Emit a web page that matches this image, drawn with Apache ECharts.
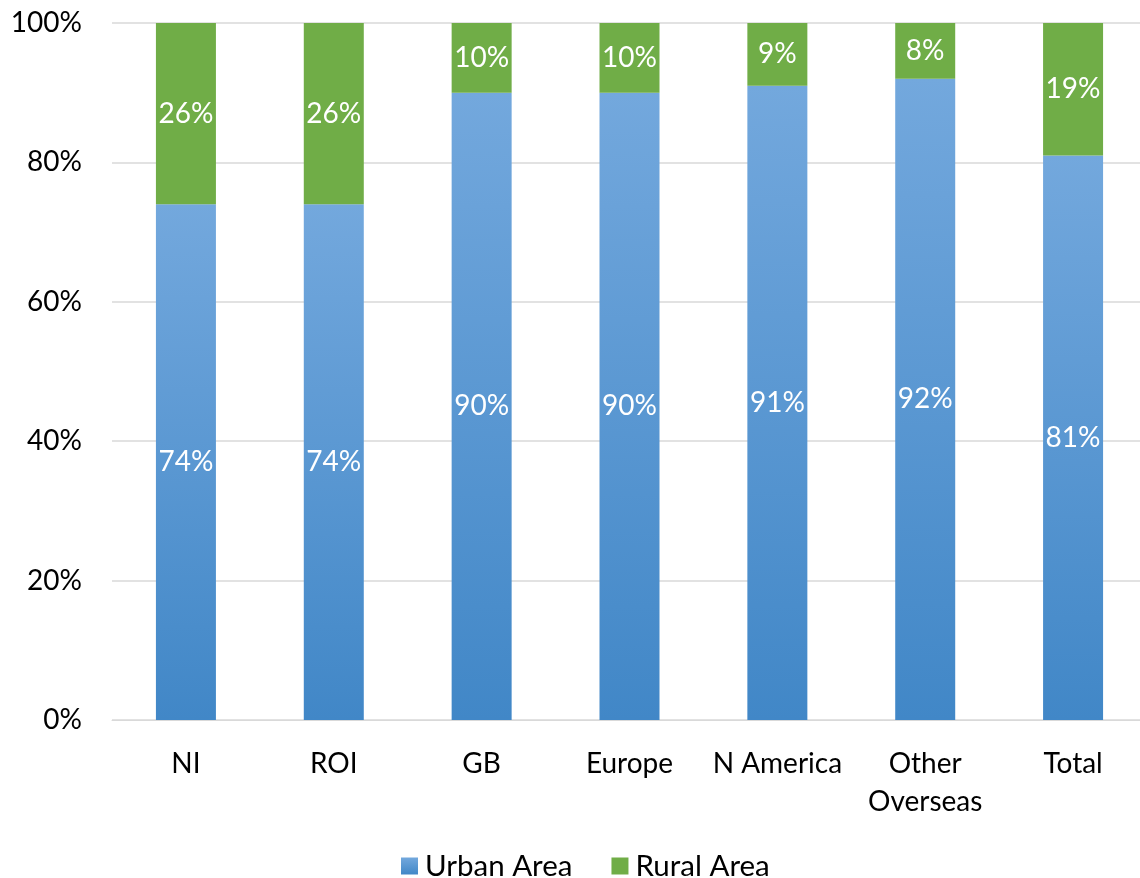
<!DOCTYPE html>
<html><head><meta charset="utf-8">
<script src="https://cdn.jsdelivr.net/npm/echarts@6/dist/echarts.min.js"></script>
<style>html,body{margin:0;padding:0;background:#fff}#c{width:1140px;height:878px}</style>
</head><body><div id="c"></div>
<script>
const categories = ['NI','ROI','GB','Europe','N America','Other\nOverseas','Total'];
const urban = [74,74,90,90,91,92,81];
const rural = [26,26,10,10,9,8,19];
const yTicks = ['0%','20%','40%','60%','80%','100%'];
const FONT = 'Lato';
const chart = echarts.init(document.getElementById('c'));
const blueGrad = new echarts.graphic.LinearGradient(0,0,0,1,[{offset:0,color:'#73a8dd'},{offset:1,color:'#4187c7'}]);
chart.setOption({
  animation:false,
  grid:{left:112,width:1035,top:23,bottom:158,outerBoundsMode:'none',containLabel:false},
  legend:{top:846,left:396,itemWidth:17,itemHeight:17,itemGap:39,icon:'rect',
    textStyle:{fontFamily:FONT,fontSize:29.5,color:'#000',padding:[0,0,0,2]},data:['Urban Area','Rural Area']},
  xAxis:{type:'category',data:categories,
    axisLine:{lineStyle:{color:'#d9d9d9',width:1}},axisTick:{show:false},
    axisLabel:{interval:0,fontFamily:FONT,fontSize:28,color:'#000',margin:25,lineHeight:38,verticalAlign:'top'}},
  yAxis:{type:'value',min:0,max:100,interval:20,
    axisLabel:{fontFamily:FONT,fontSize:28,color:'#000',margin:30,formatter:v=>yTicks[v/20]},
    splitLine:{lineStyle:{color:'#d9d9d9',width:1.5}},axisLine:{show:false},axisTick:{show:false}},
  series:[
    {name:'Urban Area',type:'bar',stack:'a',data:urban,barWidth:60,
      itemStyle:{color:blueGrad},
      label:{show:true,position:'inside',color:'#fff',fontFamily:FONT,fontSize:28,formatter:'{c}%'}},
    {name:'Rural Area',type:'bar',stack:'a',data:rural,barWidth:60,
      itemStyle:{color:'#70ad47'},
      label:{show:true,position:'inside',color:'#fff',fontFamily:FONT,fontSize:28,formatter:'{c}%'}}
  ]
});
</script></body></html>
